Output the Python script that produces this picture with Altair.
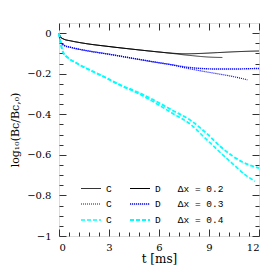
import altair as alt
import pandas as pd

# ---- data ----
t_C02 = [0, 0.1, 0.3, 0.7, 1.5, 3.0, 4.5, 6.0, 7.0, 7.5, 8.0, 8.5, 9.0, 9.8]
v_C02 = [0, -0.02, -0.03, -0.038, -0.05, -0.066, -0.08, -0.093, -0.102, -0.107, -0.111, -0.115, -0.118, -0.12]

t_D02 = [0, 0.1, 0.3, 0.7, 1.5, 3.0, 4.5, 6.0, 7.0, 7.6, 8.5, 9.5, 10.5, 11.5, 12.0]
v_D02 = [0, -0.02, -0.03, -0.038, -0.05, -0.066, -0.08, -0.093, -0.1, -0.102, -0.1, -0.096, -0.092, -0.089, -0.088]

t_C03 = [0, 0.1, 0.3, 0.7, 1.5, 3.0, 4.7, 6.0, 6.7, 7.5, 8.5, 9.5, 10.5, 11.3]
v_C03 = [0, -0.045, -0.06, -0.07, -0.084, -0.104, -0.128, -0.146, -0.155, -0.17, -0.186, -0.2, -0.215, -0.23]

t_D03 = [0, 0.1, 0.3, 0.7, 1.5, 3.0, 4.7, 6.0, 6.7, 7.5, 8.5, 9.5, 10.5, 11.5, 12.0]
v_D03 = [0, -0.045, -0.06, -0.07, -0.084, -0.104, -0.128, -0.146, -0.155, -0.166, -0.174, -0.177, -0.177, -0.175, -0.174]

t_C04 = [0, 0.1, 0.25, 0.6, 1.1, 1.8, 2.5, 3.7, 4.7, 5.8, 6.8, 7.9, 8.8, 9.7, 10.5, 11.2, 11.76]
v_C04 = [0, -0.05, -0.095, -0.125, -0.15, -0.18, -0.207, -0.258, -0.295, -0.345, -0.395, -0.45, -0.52, -0.59, -0.65, -0.70, -0.73]

t_D04 = [0, 0.1, 0.25, 0.6, 1.1, 1.8, 2.5, 3.7, 4.7, 5.8, 6.8, 7.9, 8.8, 9.7, 10.4, 11.0, 12.0]
v_D04 = [0, -0.05, -0.095, -0.125, -0.15, -0.18, -0.207, -0.256, -0.29, -0.335, -0.38, -0.43, -0.49, -0.56, -0.605, -0.635, -0.665]

series_names = ["C 0.2", "D 0.2", "C 0.3", "D 0.3", "C 0.4", "D 0.4"]
series_t = [t_C02, t_D02, t_C03, t_D03, t_C04, t_D04]
series_v = [v_C02, v_D02, v_C03, v_D03, v_C04, v_D04]

x_major = [0, 3, 6, 9, 12]
x_minor = [0, 0.6, 1.2, 1.8, 2.4, 3, 3.6, 4.2, 4.8, 5.4, 6, 6.6, 7.2, 7.8, 8.4, 9, 9.6, 10.2, 10.8, 11.4, 12]
y_major = [-1, -0.8, -0.6, -0.4, -0.2, 0]
y_minor = [-1, -0.95, -0.9, -0.85, -0.8, -0.75, -0.7, -0.65, -0.6, -0.55, -0.5, -0.45,
           -0.4, -0.35, -0.3, -0.25, -0.2, -0.15, -0.1, -0.05, 0]

rows = []
for name, ts, vs in zip(series_names, series_t, series_v):
    for i, (t, v) in enumerate(zip(ts, vs)):
        rows.append({"series": name, "t": t, "v": v, "i": i})
df = pd.DataFrame(rows)

W, H = 200, 213
xs = alt.Scale(domain=[0, 12], nice=False, zero=False)
ys = alt.Scale(domain=[-1, 0.05], nice=False, zero=False)

TICK = "#333333"
SERIF = "DejaVu Serif"
NB = "\u00a0"
x_tick_size = {"condition": {"test": "abs(datum.value/3 - round(datum.value/3)) < 0.001", "value": 7}, "value": 4}
y_tick_size = {"condition": {"test": "abs(datum.value/0.2 - round(datum.value/0.2)) < 0.001", "value": 7}, "value": 4}

legend = alt.Legend(
    title=None, orient="none", legendX=21, legendY=155, columns=2, direction="horizontal",
    symbolType="stroke", symbolSize=400, labelFont="Liberation Mono", labelFontSize=9.5,
    labelColor="#000000", labelOffset=4, columnPadding=14, rowPadding=-6, padding=0,
    labelExpr=("datum.value[0] == 'C' ? 'C' : 'D" + NB * 3 + "Δx" + NB + "=" + NB
               + "' + substring(datum.value, 2)"),
)

lines = alt.Chart(df).mark_line(interpolate="monotone").encode(
    x=alt.X("t:Q", scale=xs, axis=alt.Axis(
        orient="bottom", values=x_major, tickSize=0, domain=False, grid=False, format="~g",
        labelFont=SERIF, labelFontSize=10, labelColor="#000000", labelPadding=6,
        title="t [ms]", titleFont=SERIF, titleFontSize=12, titleFontWeight="normal",
        titleColor="#000000", titlePadding=1)),
    y=alt.Y("v:Q", scale=ys, axis=alt.Axis(
        orient="left", values=y_major, tickSize=0, domain=False, grid=False, format="~g",
        labelFont=SERIF, labelFontSize=10, labelColor="#000000", labelPadding=8,
        title="log₁₀(Bc/Bc,₀)", titleFont=SERIF, titleFontSize=11, titleFontWeight="normal",
        titleColor="#000000", titlePadding=6)),
    color=alt.Color("series:N", scale=alt.Scale(domain=series_names,
        range=["#000000", "#000000", "#0000ff", "#0000ff", "#00ffff", "#00ffff"]), legend=legend),
    strokeDash=alt.StrokeDash("series:N", scale=alt.Scale(domain=series_names,
        range=[[1, 0], [1, 0], [1, 1], [1.2, 0.8], [4, 2], [4, 2]]), legend=legend),
    strokeWidth=alt.StrokeWidth("series:N", scale=alt.Scale(domain=series_names,
        range=[0.8, 1.8, 0.8, 1.8, 0.8, 1.8]), legend=legend),
    order="i:Q",
)

def tick_layer(xorient, yorient):
    return alt.Chart(df).mark_point(opacity=0).encode(
        x=alt.X("t:Q", scale=xs, axis=alt.Axis(
            orient=xorient, offset=-H, values=x_minor, tickSize=x_tick_size, tickColor=TICK,
            tickWidth=1, labels=False, domain=False, grid=False, title=None)),
        y=alt.Y("v:Q", scale=ys, axis=alt.Axis(
            orient=yorient, offset=-W, values=y_minor, tickSize=y_tick_size, tickColor=TICK,
            tickWidth=1, labels=False, domain=False, grid=False, title=None)),
    )

chart = alt.layer(
    lines, tick_layer("top", "right"), tick_layer("bottom", "left")
).resolve_axis(x="independent", y="independent").properties(
    width=W, height=H,
    autosize=alt.AutoSizeParams(type="none"),
    padding={"left": 51, "top": 15, "right": 7, "bottom": 30},
).configure_view(stroke="#333333", strokeWidth=1.2).configure(background="white")

chart.save("out.html", embed_options={"renderer": "svg", "actions": False})
